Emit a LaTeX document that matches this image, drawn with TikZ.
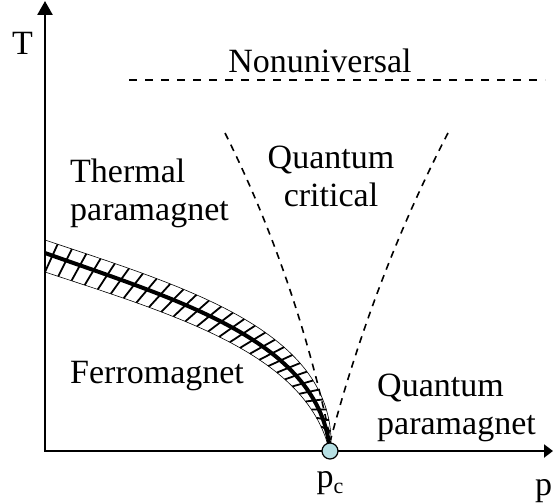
\documentclass[tikz,border=0pt]{standalone}
\usepackage{fontspec}
\setmainfont{Liberation Serif}
\usetikzlibrary{arrows.meta}
\definecolor{qcpcyan}{RGB}{183,224,228}
\tikzstyle{axis} = [line width=2.6pt, {Triangle[length=14pt, width=15pt]}-{Triangle[length=9pt, width=13pt]}]
\tikzstyle{crossover} = [line width=1.6pt, dash pattern=on 7pt off 6pt]
\tikzstyle{txt} = [font=\fontsize{34}{38}\selectfont, inner sep=0pt]
\tikzstyle{hatch} = [line width=1.8pt]

\begin{document}
\begin{tikzpicture}[x=1pt, y=-1pt]
    \useasboundingbox (0,0) rectangle (553,503);

    % Phase boundary with hatched band
    \foreach \t in {0.0,0.034,...,0.92} {
        \pgfmathsetmacro{\tup}{\t+0.03}
        \path (45,272) .. controls (175,315) and (305,353) .. (329,449) coordinate[pos=\t] (lo);
        \path (45,240) .. controls (185,287) and (336,331) .. (331,449) coordinate[pos=\tup] (up);
        \draw[hatch] (lo) -- (up);
    }
    \draw[line width=0.6pt] (45,272) .. controls (175,315) and (305,353) .. (329,449);
    \draw[line width=0.6pt] (45,240) .. controls (185,287) and (336,331) .. (331,449);
    \draw[line width=4pt] (45,253) .. controls (180,301) and (320,341) .. (330,451);

    % Crossover lines
    \coordinate (qcleft) at (225,133);
    \coordinate (qcright) at (448,133);
    \coordinate (qcfoot) at (330.5,440);
    \draw[crossover] (qcleft) .. controls (275,233) and (310,340) .. (qcfoot);
    \draw[crossover] (qcright) .. controls (396,233) and (357,340) .. (qcfoot);
    \coordinate (nuleft) at (129,80);
    \coordinate (nuright) at (545,80);
    \draw[crossover, dash pattern=on 8pt off 8pt] (nuleft) -- (nuright);

    % Axes
    \coordinate (origin) at (45,451);
    \coordinate (ttop) at (45,1);
    \coordinate (pend) at (553,451);
    \draw[axis] (ttop) -- (origin) -- (pend);
    \node[txt, circle, draw, line width=1.2pt, fill=qcpcyan, minimum size=16pt] (qcp) at (330,451) {};

    % Labels
    \node[txt, anchor=base] (tlabel) at (22.5,55) {T};
    \node[txt, anchor=base west] (plabel) at (535,495) {p};
    \node[txt, anchor=base] (pclabel) at (330,487) {p\raisebox{-0.2em}{\fontsize{22}{22}\selectfont c}};
    \node[txt, anchor=base] (nonuniv) at (320,72) {Nonuniversal};
    \node[txt, anchor=base, align=center] (qcrit) at (331,206) {Quantum\\critical};
    \node[txt, anchor=base west, align=left] (thermal) at (70,220) {Thermal\\paramagnet};
    \node[txt, anchor=base west] (ferro) at (70,383) {Ferromagnet};
    \node[txt, anchor=base west, align=left] (qpara) at (377,434) {Quantum\\paramagnet};
\end{tikzpicture}
\end{document}
